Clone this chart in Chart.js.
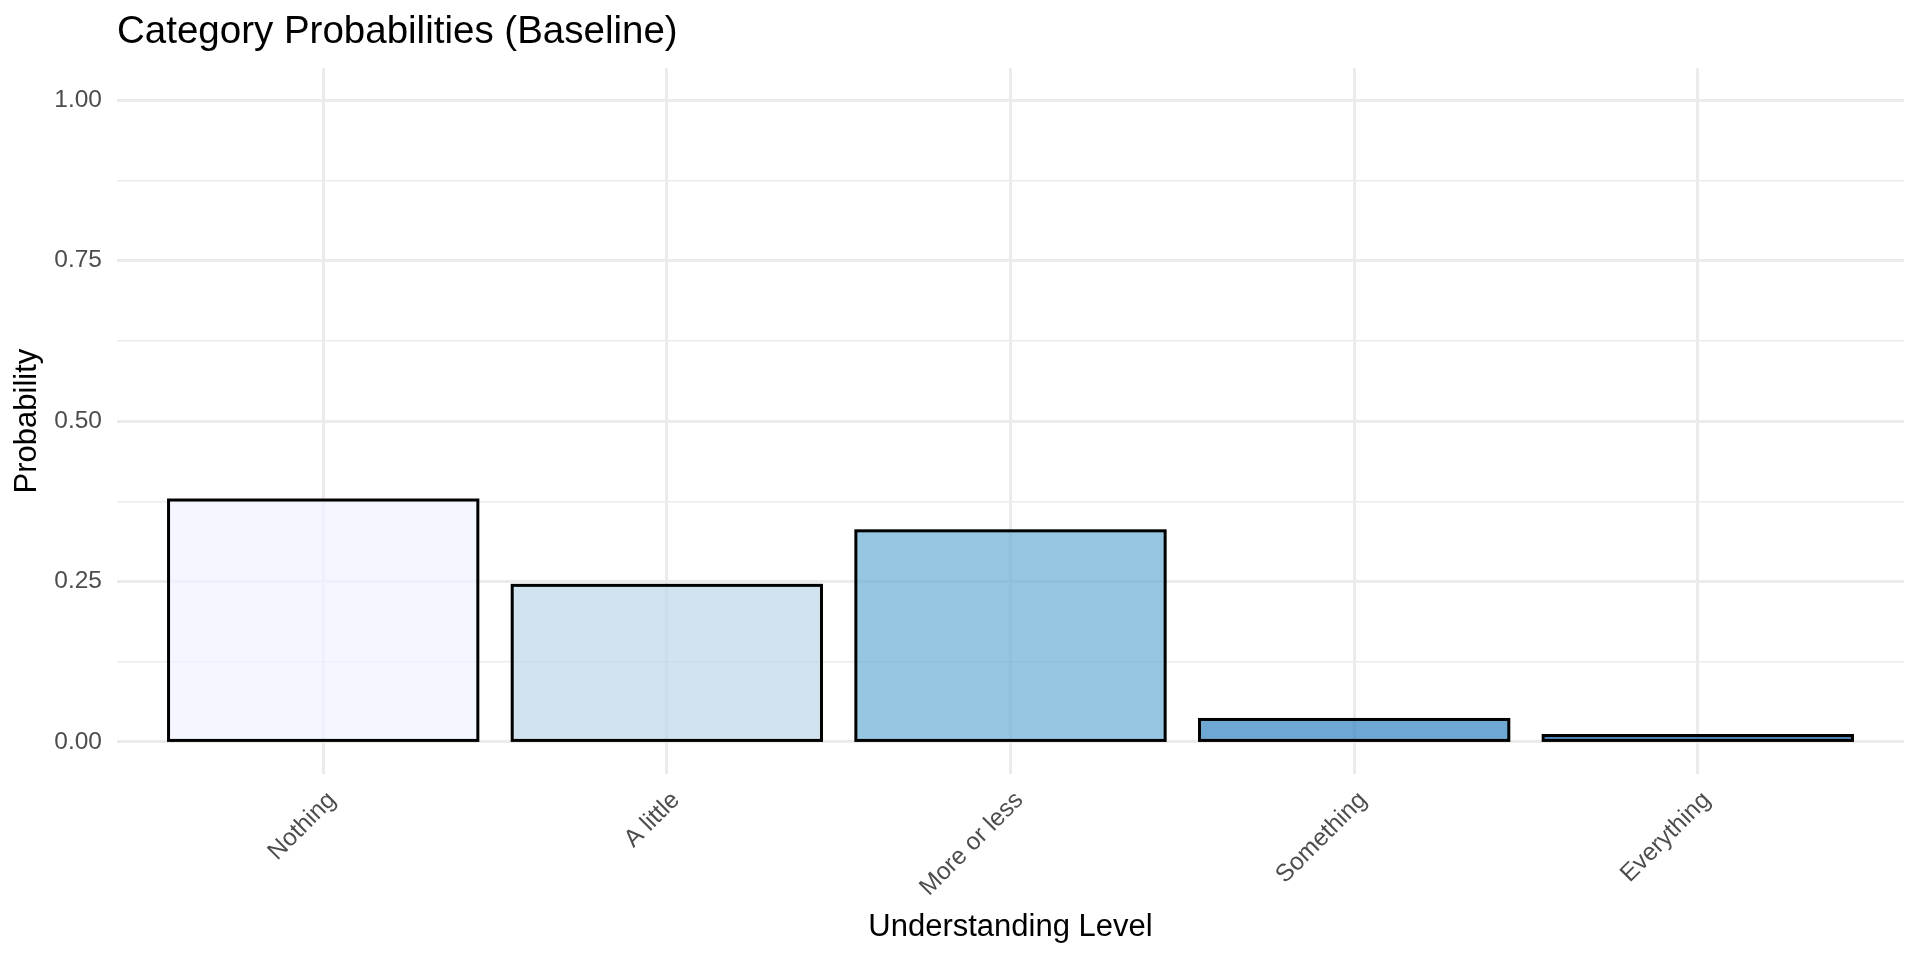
<!DOCTYPE html>
<html>
<head>
<meta charset="utf-8">
<title>Category Probabilities (Baseline)</title>
<script src="https://cdn.jsdelivr.net/npm/chart.js@4.4.1/dist/chart.umd.min.js"></script>
<style>
  html, body { margin: 0; padding: 0; background: #ffffff; }
  #wrap { width: 1920px; height: 960px; }
</style>
</head>
<body>
<div id="wrap"><canvas id="probChart"></canvas></div>
<script>
// Chart data
const categories = ["Nothing", "A little", "More or less", "Something", "Everything"];
const probabilities = [0.377, 0.244, 0.329, 0.035, 0.010];
const barColors = [
  "rgba(239, 243, 255, 0.7)",
  "rgba(189, 215, 231, 0.7)",
  "rgba(107, 174, 214, 0.7)",
  "rgba(49, 130, 189, 0.7)",
  "rgba(8, 81, 156, 0.7)"
];
const yTicks = [0, 0.25, 0.5, 0.75, 1];

Chart.defaults.font.family = "'Liberation Sans', Arial, sans-serif";

// major ticks plus the minor ones halfway between them
function buildYTicks() {
  const out = [];
  yTicks.forEach((v, i) => {
    out.push({ value: v, major: true });
    if (i < yTicks.length - 1) out.push({ value: (v + yTicks[i + 1]) / 2, major: false });
  });
  return out;
}

// Stroke the bar outlines centred on the bar edges (ggplot style),
// so that very small bars still show their fill
const barOutline = {
  id: "barOutline",
  afterDatasetsDraw: (chart) => {
    const { ctx } = chart;
    const meta = chart.getDatasetMeta(0);
    ctx.save();
    ctx.strokeStyle = "#000000";
    ctx.lineWidth = 3;
    meta.data.forEach((bar) => {
      const { x, y, base, width } = bar.getProps(["x", "y", "base", "width"], true);
      ctx.strokeRect(x - width / 2, y, width, base - y);
    });
    ctx.restore();
  },
};

const ctx = document.getElementById("probChart").getContext("2d");

const probChart = new Chart(ctx, {
  type: "bar",
  data: {
    datasets: [
      {
        label: "Probability",
        data: categories.map((c, i) => ({ x: i, y: probabilities[i] })),
        backgroundColor: barColors,
        borderWidth: 0,
        categoryPercentage: 0.9,
        barPercentage: 1.0,
      },
    ],
  },
  options: {
    responsive: true,
    maintainAspectRatio: false,
    devicePixelRatio: 1,
    animation: false,
    layout: { padding: { left: 0, right: 16, top: 0, bottom: 0 } },
    plugins: {
      legend: { display: false },
      tooltip: { enabled: false },
      title: {
        display: true,
        text: "Category Probabilities (Baseline)",
        align: "start",
        fullSize: false,
        color: "#000000",
        font: { size: 38.5, weight: "normal" },
        padding: { top: 9.5, bottom: 12.5 },
      },
    },
    scales: {
      x: {
        type: "linear",
        min: -0.6,
        max: 4.6,
        offset: false,
        afterBuildTicks: (scale) => {
          scale.ticks = categories.map((c, i) => ({ value: i }));
        },
        afterFit: (scale) => {
          scale.height = 186;
        },
        ticks: {
          autoSkip: false,
          maxRotation: 45,
          minRotation: 45,
          padding: 12,
          labelOffset: 9,
          color: "#4d4d4d",
          font: { size: 24.5 },
          callback: (value) => categories[value],
        },
        grid: { color: "#ebebeb", lineWidth: 3, drawTicks: false, offset: false },
        border: { display: false },
        title: {
          display: true,
          text: "Understanding Level",
          color: "#000000",
          font: { size: 31 },
          padding: { top: 0, bottom: 14 },
        },
      },
      y: {
        type: "linear",
        min: -0.05,
        max: 1.05,
        afterBuildTicks: (scale) => {
          scale.ticks = buildYTicks();
        },
        afterFit: (scale) => {
          scale.width = 117;
        },
        ticks: {
          padding: 15,
          color: "#4d4d4d",
          font: { size: 24.5 },
          callback: (value) => (yTicks.includes(value) ? value.toFixed(2) : ""),
        },
        grid: {
          color: "#ebebeb",
          drawTicks: false,
          lineWidth: (c) => (c.tick && yTicks.includes(c.tick.value) ? 3 : 1.5),
        },
        border: { display: false },
        title: {
          display: true,
          text: "Probability",
          color: "#000000",
          font: { size: 31 },
          padding: { top: 9, bottom: 0 },
        },
      },
    },
  },
  plugins: [barOutline],
});
</script>
</body>
</html>
